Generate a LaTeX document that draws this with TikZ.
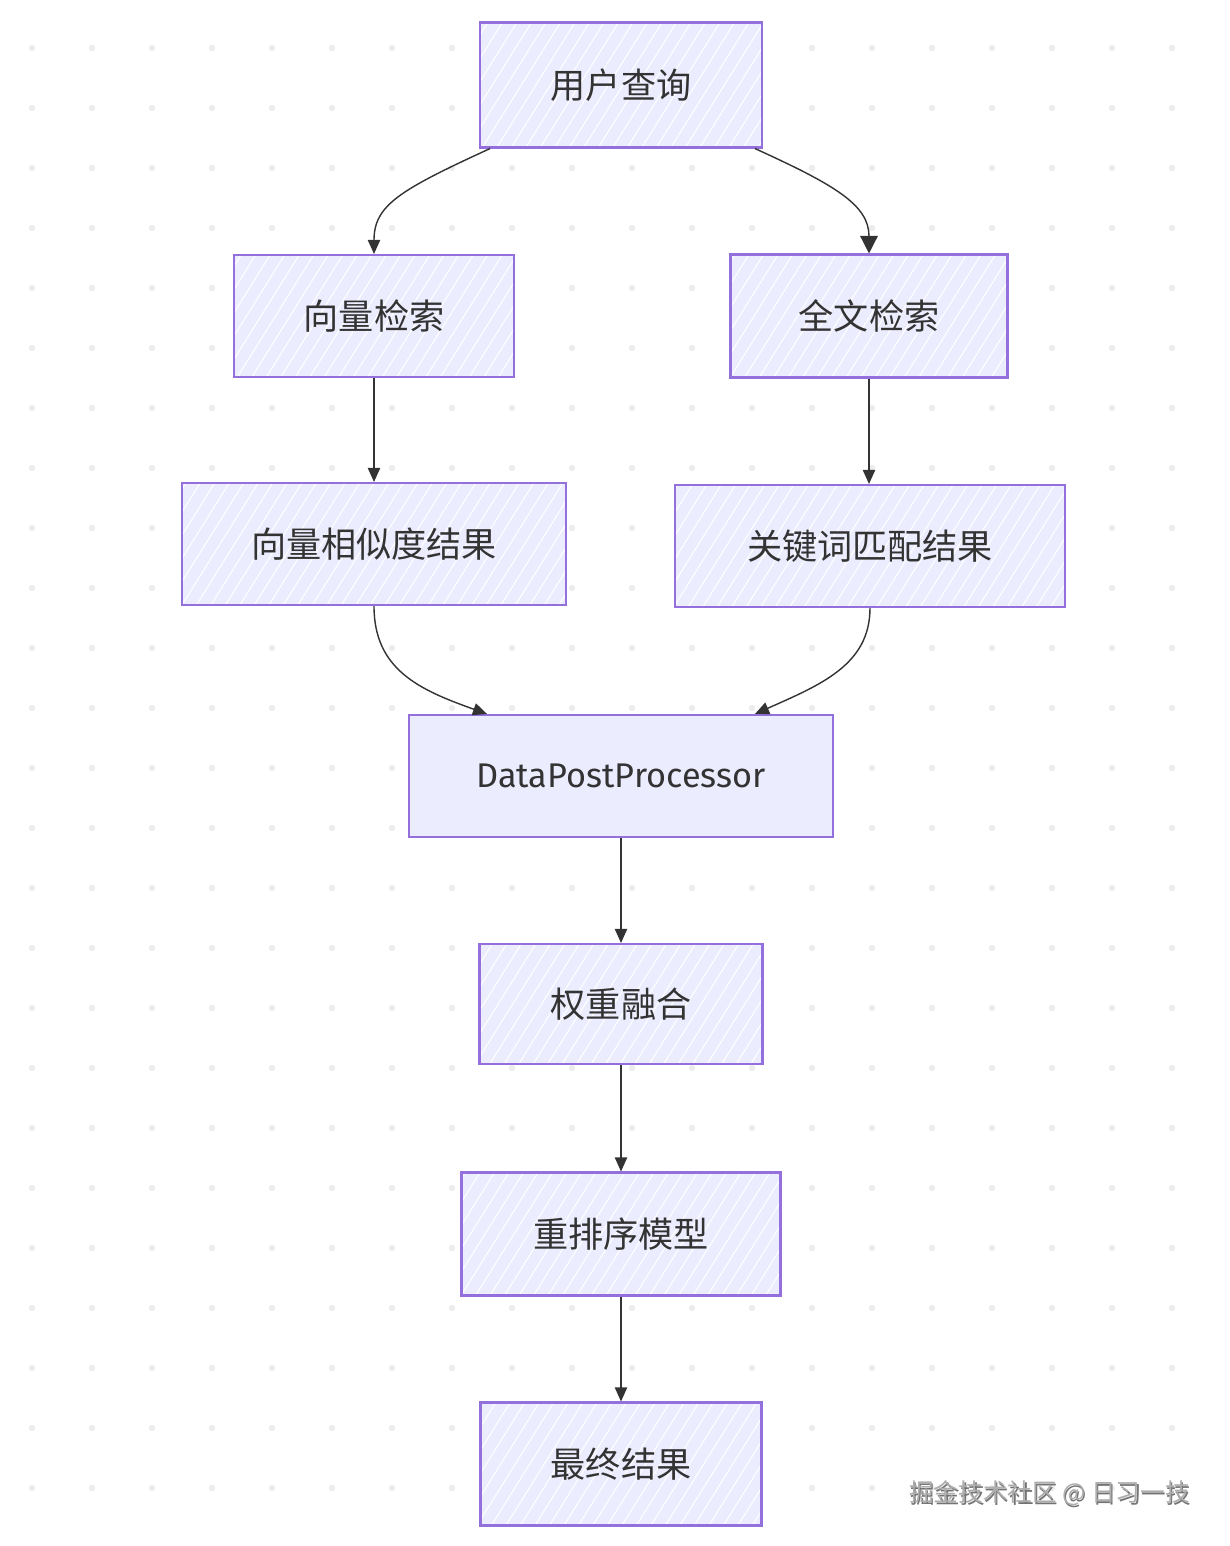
\documentclass[tikz,border=0pt]{standalone}
\usepackage{fontspec}
\setmainfont{Noto Sans CJK SC}
\newfontfamily\latinf{Fira Sans}
\usetikzlibrary{patterns.meta,arrows.meta,calc}
\definecolor{lav}{HTML}{ECECFF}
\definecolor{bord}{HTML}{9370DB}
\definecolor{txt}{HTML}{333333}
\definecolor{dotc}{HTML}{ECECEC}
\begin{document}
\begin{tikzpicture}[x=0.02cm,y=-0.02cm,
  boxbase/.style={draw=bord, line width=1.2pt, text=txt, inner sep=0pt,
    font=\fontsize{20}{24}\selectfont, minimum height=2.44cm},
  box/.style={boxbase, preaction={fill=lav},
    preaction={pattern={Lines[angle=58,distance=7pt,line width=0.6pt]}, pattern color=white}},
  plainbox/.style={boxbase, fill=lav},
  link/.style={draw=txt, line width=0.8pt, -{Triangle[length=8pt,width=7pt]}},
  biglink/.style={link, -{Triangle[length=10pt,width=10pt]}}]
\useasboundingbox (0,0) rectangle (1230,1546);
\fill[white] (0,0) rectangle (1230,1546);
% dot grid
\foreach \i in {0,...,19} {
  \foreach \j in {0,...,24} {
    \fill[dotc] (32+60*\i,48+60*\j) circle[radius=1.8pt];
  }
}
% nodes
\node[box, minimum width=5.64cm, minimum height=2.5cm] (q) at (621,85) {用户查询};
\node[box, minimum width=5.6cm] (vec) at (374,316) {向量检索};
\node[box, minimum width=5.54cm, minimum height=2.46cm] (ft) at (869,316) {全文检索};
\node[box, minimum width=7.68cm] (vres) at (374,544) {向量相似度结果};
\node[box, minimum width=7.8cm] (kres) at (870,546) {关键词匹配结果};
\node[plainbox, minimum width=8.48cm, font={\latinf\fontsize{19.5}{24}\selectfont}] (dpp) at (621,776) {DataPostProcessor};
\node[box, minimum width=5.66cm, minimum height=2.4cm] (fuse) at (621,1004) {权重融合};
\node[box, minimum width=6.38cm, minimum height=2.46cm] (rr) at (621,1234) {重排序模型};
\node[box, minimum width=5.62cm, minimum height=2.46cm] (fin) at (621,1464) {最终结果};
% connectors
\draw[link] ([xshift=-2.62cm]q.south) .. controls (400,190) and (374,205) .. (vec.north);
\draw[biglink] ([xshift=2.68cm]q.south) .. controls (835,185) and (869,205) .. (ft.north);
\draw[link] (vec.south) -- (vres.north);
\draw[link] (ft.south) -- ([xshift=-0.02cm]kres.north);
\draw[link] (vres.south) .. controls (374,670) and (420,690) .. ([xshift=-2.68cm]dpp.north);
\draw[link] (kres.south) .. controls (870,665) and (820,685) .. ([xshift=2.68cm]dpp.north);
\draw[link] (dpp.south) -- (fuse.north);
\draw[link] (fuse.south) -- (rr.north);
\draw[link] (rr.south) -- (fin.north);
% watermark
\node[text=black!55, font=\fontsize{14}{16}\selectfont, inner sep=0pt] (wmshadow) at (1051,1495) {掘金技术社区 @ 日习一技};
\node[text=black!32, font=\fontsize{14}{16}\selectfont, inner sep=0pt] (wm) at (1049.5,1493.5) {掘金技术社区 @ 日习一技};
\end{tikzpicture}
\end{document}
